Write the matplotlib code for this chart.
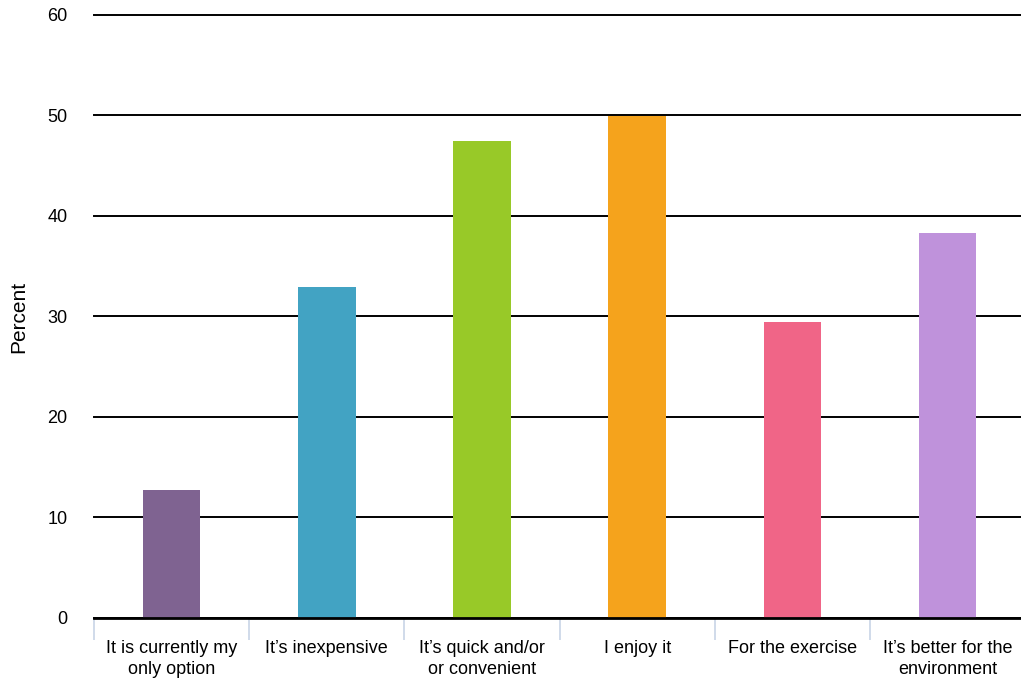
import numpy as np
import matplotlib.pyplot as plt

plt.rcParams['font.family'] = ['Liberation Sans', 'DejaVu Sans']

# Data
categories = ['It is currently my\nonly option', 'It\u2019s inexpensive',
              'It\u2019s quick and/or\nor convenient', 'I enjoy it',
              'For the exercise', 'It\u2019s better for the\nenvironment']
values = [12.7, 32.9, 47.5, 49.9, 29.5, 38.3]
colors = ['#7f6391', '#42a3c3', '#98c928', '#f5a31c', '#f06587', '#bf92db']

fig = plt.figure(figsize=(10.21, 6.84), dpi=100)
ax = fig.add_axes([0.0921, 0.0965, 0.912, 0.8816])

x = np.arange(len(categories))
ax.bar(x, values, width=0.37, color=colors, zorder=3)

ax.set_xlim(-0.5, len(categories) - 0.5)
ax.set_ylim(0, 60)
ax.set_yticks(range(0, 61, 10))
ax.yaxis.grid(True, color='black', linewidth=1.4, zorder=0)
ax.set_axisbelow(True)
for gl in ax.get_ygridlines():
    gl.set_clip_on(False)

for s in ['top', 'right', 'left']:
    ax.spines[s].set_visible(False)
ax.spines['bottom'].set_linewidth(2)
ax.spines['bottom'].set_color('black')
ax.spines['bottom'].set_zorder(4)

ax.set_xticks(x)
ax.set_xticklabels(categories, fontsize=13, linespacing=1.3)
ax.set_xticks(np.arange(-0.5, len(categories)), minor=True)
ax.tick_params(axis='x', which='major', length=0, pad=16)
ax.tick_params(axis='x', which='minor', length=16, color='#c8d4e6', width=1.2)
ax.tick_params(axis='y', length=0, pad=19, labelsize=13)

ax.set_ylabel('Percent', fontsize=15)
ax.yaxis.set_label_coords(-0.071, 0.5)

fig.savefig('out.png', dpi=100)
